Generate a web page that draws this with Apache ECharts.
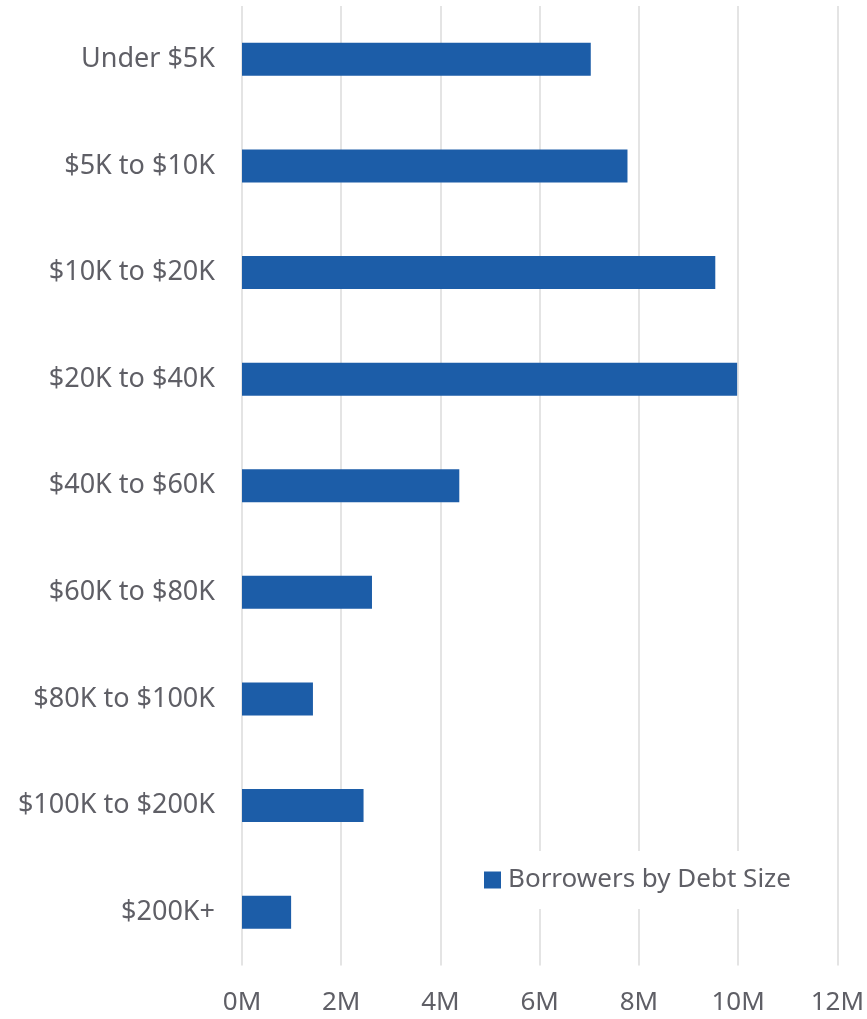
<!DOCTYPE html>
<html>
<head>
<meta charset="utf-8">
<style>
  html, body { margin: 0; padding: 0; background: #ffffff; }
  #chart { width: 867px; height: 1019px; }
</style>
<script src="https://cdn.jsdelivr.net/npm/echarts@6/dist/echarts.min.js"></script>
</head>
<body>
<div id="chart"></div>
<script>
// Debt-size buckets, top to bottom
const categories = [
  'Under $5K', '$5K to $10K', '$10K to $20K', '$20K to $40K', '$40K to $60K',
  '$60K to $80K', '$80K to $100K', '$100K to $200K', '$200K+'
];
// Number of borrowers, in millions
const borrowers = [7.03, 7.77, 9.54, 9.98, 4.38, 2.62, 1.43, 2.45, 0.99];
const seriesName = 'Borrowers by Debt Size';
// X axis ticks (millions)
const xTicks = [0, 2, 4, 6, 8, 10, 12];

const textColor = '#5f5f66';
const fontFamily = '"Noto Sans", "Open Sans", sans-serif';

const chart = echarts.init(document.getElementById('chart'), null, { renderer: 'canvas' });
chart.setOption({
  animation: false,
  backgroundColor: '#ffffff',
  textStyle: { fontFamily: fontFamily },
  grid: { left: 242, right: 29.5, top: 6, bottom: 53.5, containLabel: false },
  legend: {
    data: [seriesName],
    left: 470,
    top: 851,
    backgroundColor: '#ffffff',
    padding: [16, 14, 16, 14],
    itemWidth: 17,
    itemHeight: 17,
    itemGap: 10,
    icon: 'rect',
    textStyle: { color: textColor, fontSize: 26, fontFamily: fontFamily, padding: [0, 0, 0, 2] }
  },
  xAxis: {
    type: 'value',
    min: xTicks[0],
    max: xTicks[xTicks.length - 1],
    interval: 2,
    axisLine: { show: false },
    axisTick: { show: false },
    splitLine: { show: true, lineStyle: { color: '#e4e4e4', width: 2 } },
    axisLabel: {
      color: textColor,
      fontSize: 26,
      margin: 24,
      formatter: v => v + 'M'
    }
  },
  yAxis: {
    type: 'category',
    data: categories,
    inverse: true,
    axisLine: { show: false },
    axisTick: { show: false },
    splitLine: { show: false },
    axisLabel: { color: textColor, fontSize: 27, margin: 27 }
  },
  series: [{
    name: seriesName,
    type: 'bar',
    data: borrowers,
    barWidth: 33,
    itemStyle: { color: '#1c5da8' }
  }]
});
</script>
</body>
</html>
